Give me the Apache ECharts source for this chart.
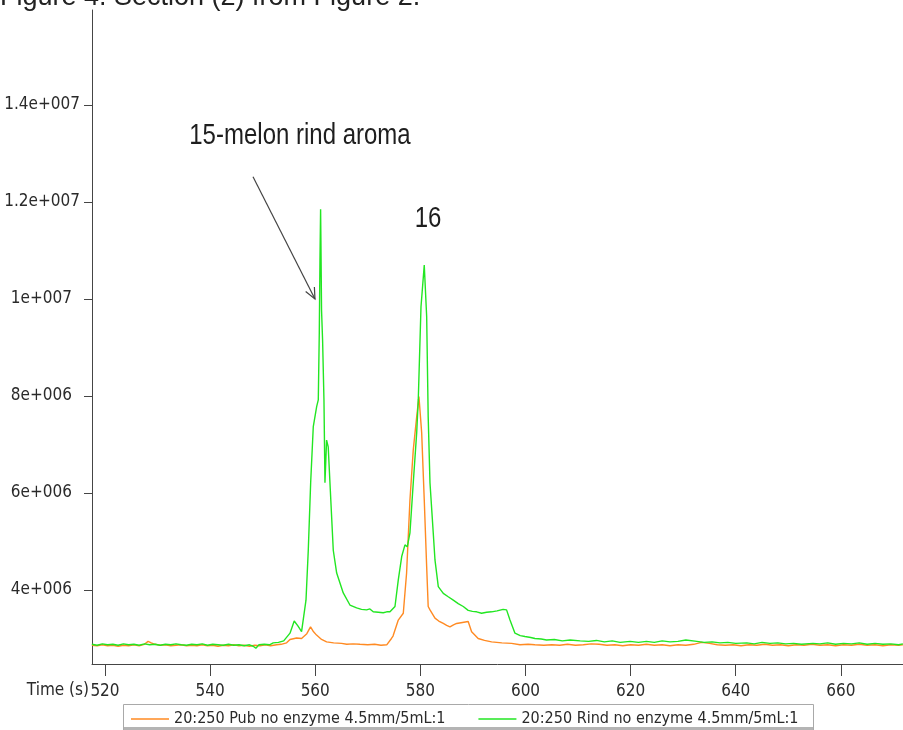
<!DOCTYPE html>
<html>
<head>
<meta charset="utf-8">
<script src="https://cdn.jsdelivr.net/npm/echarts@6/dist/echarts.min.js"></script>
<style>
  html, body { margin: 0; padding: 0; background: #ffffff; }
  #chart { width: 903px; height: 730px; }
</style>
</head>
<body>
<div id="chart"></div>
<script>
// Total ion chromatogram, retention window 517-672 s (intensity in millions of counts)
const seriesNames = [
  '20:250 Pub no enzyme 4.5mm/5mL:1',
  '20:250 Rind no enzyme 4.5mm/5mL:1'
];

// [time (s), intensity (x1e6)]
const pulpTrace = [
  [517.5,2.86],[518.5,2.85],[519.5,2.87],[520.5,2.85],[521.5,2.86],[522.5,2.84],[523.5,2.86],[524.5,2.85],
  [525.5,2.87],[526.5,2.85],[527.5,2.88],[528.2,2.94],[528.8,2.91],[529.5,2.88],[530.5,2.86],[531.5,2.87],
  [532.5,2.85],[533.5,2.86],[534.5,2.87],[535.5,2.85],[536.5,2.86],[537.5,2.85],[538.5,2.87],[539.5,2.85],
  [540.5,2.86],[541.5,2.84],[542.5,2.86],[543.5,2.85],[544.5,2.87],[545.5,2.85],[546.5,2.86],[547.5,2.84],
  [548.5,2.86],[549.5,2.85],[550.5,2.87],[551.5,2.85],[552.65,2.87],[553.5,2.88],[554.55,2.91],[555.2,2.98],
  [556.45,3.01],[557.4,3.00],[557.7,2.97],[558.4,3.10],[559.1,3.24],[559.6,3.15],[560.25,3.07],[561.2,2.98],
  [562.16,2.93],[563.5,2.91],[565,2.90],[566,2.88],[567.2,2.89],[568.5,2.88],[570,2.87],[571.3,2.88],
  [572.5,2.86],[573.6,2.87],[574.5,3.00],[574.8,3.05],[575.8,3.38],[576.75,3.52],[577.38,4.35],[578.02,5.86],
  [578.65,6.89],[579.3,7.57],[579.73,7.99],[580.25,7.24],[580.74,5.86],[581.2,4.48],[581.49,3.66],[581.83,3.59],
  [582.78,3.42],[583.5,3.36],[584.36,3.31],[585.0,3.27],[585.63,3.24],[586.3,3.28],[586.9,3.31],[588.0,3.33],
  [589.1,3.35],[589.75,3.14],[591.0,3.00],[592.2,2.96],[593.55,2.93],[595.5,2.91],[597.35,2.90],[598.95,2.87],
  [600.5,2.88],[601.8,2.87],[603.5,2.86],[605,2.87],[606.5,2.86],[608,2.88],[609.5,2.86],[611,2.87],
  [612.5,2.89],[614,2.88],[615.5,2.86],[617,2.87],[618.5,2.85],[620,2.87],[621.5,2.86],[623,2.88],
  [624.5,2.86],[626,2.87],[627.5,2.85],[629,2.87],[630.5,2.86],[632,2.88],[633.5,2.92],[635,2.90],
  [636.5,2.87],[638,2.86],[639.5,2.87],[641,2.85],[642.5,2.87],[644,2.86],[645.5,2.88],[647,2.86],
  [648.5,2.87],[650,2.85],[651.5,2.87],[653,2.86],[654.5,2.88],[656,2.86],[657.5,2.87],[659,2.85],
  [660.5,2.87],[662,2.86],[663.5,2.88],[665,2.86],[666.5,2.87],[668,2.85],[669.5,2.87],[671,2.86],[671.8,2.87]
];

const rindTrace = [
  [517.5,2.88],[518.5,2.86],[519.5,2.89],[520.5,2.87],[521.5,2.88],[522.5,2.86],[523.5,2.89],[524.5,2.87],
  [525.5,2.88],[526.5,2.86],[527.5,2.89],[528.5,2.87],[529.5,2.88],[530.5,2.86],[531.5,2.88],[532.5,2.87],
  [533.5,2.89],[534.5,2.87],[535.5,2.86],[536.5,2.88],[537.5,2.87],[538.5,2.89],[539.5,2.86],[540.5,2.88],
  [541.5,2.87],[542.5,2.86],[543.5,2.88],[544.5,2.86],[545.5,2.87],[546.5,2.85],[547.5,2.87],[548.2,2.84],
  [548.7,2.80],[549.3,2.87],[550.3,2.88],[551.3,2.87],[552.0,2.91],[553.0,2.92],[554.0,2.95],[555.2,3.11],
  [556.0,3.36],[556.7,3.26],[557.4,3.14],[558.24,3.79],[558.68,4.83],[559.13,6.21],[559.63,7.37],[560.27,7.78],
  [560.58,7.92],[560.77,9.30],[560.9,10.8],[561.02,11.85],[561.08,11.2],[561.2,9.77],[561.4,9.15],[561.66,7.92],
  [561.85,6.21],[562.16,7.09],[562.47,6.95],[562.8,6.21],[563.43,4.82],[564.08,4.35],[565.33,3.94],[566.6,3.69],
  [567.87,3.63],[568.8,3.60],[569.77,3.59],[570.4,3.61],[571.03,3.55],[572.0,3.54],[572.93,3.53],[573.6,3.55],
  [574.22,3.55],[575.17,3.66],[575.8,4.21],[576.45,4.69],[577.07,4.93],[577.51,4.89],[578.02,5.18],[578.65,6.21],
  [579.3,7.24],[579.6,7.92],[580.12,9.84],[580.74,10.7],[581.2,9.64],[581.49,7.57],[581.83,6.21],[582.45,5.18],
  [582.78,4.62],[583.41,4.07],[584.36,3.93],[585.3,3.86],[586.26,3.79],[587.2,3.72],[588.16,3.66],[589.1,3.58],
  [589.9,3.56],[590.7,3.55],[591.65,3.52],[592.6,3.54],[593.55,3.55],[594.6,3.57],[595.75,3.60],[596.4,3.59],
  [597.05,3.38],[598.0,3.11],[599.0,3.06],[599.9,3.04],[601.0,3.02],[601.8,3.00],[603.0,2.99],[604.0,2.97],
  [605.5,2.98],[607,2.95],[608.5,2.97],[610.4,2.95],[612,2.94],[613.5,2.96],[615,2.93],[616.5,2.95],
  [618,2.92],[619.9,2.94],[621.5,2.92],[623,2.94],[624.5,2.92],[626,2.95],[627.5,2.93],[629,2.94],
  [630.5,2.97],[632.6,2.94],[634,2.92],[635.5,2.93],[637,2.91],[638.5,2.92],[640,2.90],[642.1,2.91],
  [643.5,2.89],[645,2.92],[646.5,2.90],[648,2.91],[649.5,2.89],[651,2.90],[652.5,2.88],[654.7,2.90],
  [656,2.89],[657.5,2.91],[659,2.88],[660.5,2.90],[662,2.89],[663.5,2.91],[665,2.88],[666.5,2.90],
  [668,2.88],[669.5,2.89],[671,2.87],[671.8,2.89]
];

// Axis ticks
const xTicks = [520, 540, 560, 580, 600, 620, 640, 660];
const yTicks = [4, 6, 8, 10, 12, 14];
const yTickLabels = ['4e+006', '6e+006', '8e+006', '1e+007', '1.2e+007', '1.4e+007'];

// Peak annotations: [time, intensity, text]
const peakNotes = [
  [557.1, 13.36, '15-melon rind aroma'],
  [581.45, 11.65, '16']
];
// Arrow from the label down to peak 15: [from, to]
const peakArrow = [[548.16, 12.52], [559.95, 10.0]];

const colors = ['#ff8a22', '#22e622'];
const axisColor = '#454545';
const textColor = '#2a2a2a';
const labelFont = "'Liberation Sans Narrow', 'DejaVu Sans Condensed', sans-serif";

const chart = echarts.init(document.getElementById('chart'), null, { renderer: 'canvas' });

const option = {
  animation: false,
  backgroundColor: '#ffffff',
  color: colors,
  grid: { left: 92, right: 0, top: 10, bottom: 66, containLabel: false },
  legend: {
    left: 131,
    top: 711,
    padding: 0,
    icon: 'rect',
    itemWidth: 38,
    itemHeight: 1.5,
    itemGap: 33,
    textStyle: { fontFamily: labelFont, fontSize: 16, color: textColor, padding: [0, 0, 0, 0] },
    data: seriesNames
  },
  xAxis: {
    type: 'value',
    min: 517.53,
    max: 671.82,
    splitLine: { show: false },
    axisLine: { onZero: false, lineStyle: { color: axisColor, width: 1 } },
    axisTick: { show: true, length: 12, customValues: xTicks, lineStyle: { color: axisColor } },
    axisLabel: {
      customValues: xTicks,
      margin: 19,
      fontFamily: labelFont,
      fontSize: 17,
      color: textColor
    }
  },
  yAxis: {
    type: 'value',
    min: 2.474,
    max: 15.96,
    splitLine: { show: false },
    axisLine: { show: true, lineStyle: { color: axisColor, width: 1 } },
    axisTick: { show: true, length: 8, customValues: yTicks, lineStyle: { color: axisColor } },
    axisLabel: {
      customValues: yTicks,
      margin: 12,
      fontFamily: labelFont,
      fontSize: 17,
      color: textColor,
      formatter: function (v) {
        const i = yTicks.indexOf(v);
        const txt = i >= 0 ? yTickLabels[i] : '';
        return txt.length < 8 ? '{s|' + txt + '}' : txt;
      },
      rich: { s: { fontFamily: labelFont, fontSize: 17, color: textColor, padding: [0, 8, 0, 0] } }
    }
  },
  series: [
    {
      name: seriesNames[0],
      type: 'line',
      data: pulpTrace,
      symbol: 'none',
      lineStyle: { width: 1.4, color: colors[0] },
      z: 2
    },
    {
      name: seriesNames[1],
      type: 'line',
      data: rindTrace,
      symbol: 'none',
      lineStyle: { width: 1.4, color: colors[1] },
      z: 3
    }
  ]
};

chart.setOption(option);

// Overlay: figure caption, axis title, legend frame and peak annotations
const toPx = (p) => chart.convertToPixel({ gridIndex: 0 }, p);
const a0 = toPx(peakArrow[0]);
const a1 = toPx(peakArrow[1]);
const ang = Math.atan2(a1[1] - a0[1], a1[0] - a0[0]);
const headLen = 12, headSpread = 0.42;
const w1 = [a1[0] - headLen * Math.cos(ang - headSpread), a1[1] - headLen * Math.sin(ang - headSpread)];
const w2 = [a1[0] - headLen * Math.cos(ang + headSpread), a1[1] - headLen * Math.sin(ang + headSpread)];

const graphics = [
  {
    type: 'text', x: 0, y: 11, z: 10,
    style: {
      text: 'Figure 4. Section (2) from Figure 2.',
      font: "27px 'Liberation Sans', Arial, sans-serif",
      fill: '#222', textAlign: 'left', textVerticalAlign: 'bottom'
    }
  },
  {
    type: 'text', x: 89, y: 691, z: 10,
    style: {
      text: 'Time (s)', font: "17px " + labelFont,
      fill: textColor, textAlign: 'right', textVerticalAlign: 'middle'
    }
  },
  {
    type: 'rect', z: -1, silent: true,
    shape: { x: 123.5, y: 704.5, width: 690, height: 30 },
    style: { fill: '#ffffff', stroke: '#a9a9a9', lineWidth: 1 }
  },
  {
    type: 'rect', z: -1, silent: true,
    shape: { x: 124, y: 727, width: 689, height: 3 },
    style: { fill: '#b4b4b4' }
  },
  {
    type: 'line', z: 10, silent: true,
    shape: { x1: a0[0], y1: a0[1], x2: a1[0], y2: a1[1] },
    style: { stroke: '#444', lineWidth: 1.2 }
  },
  {
    type: 'polyline', z: 10, silent: true,
    shape: { points: [w1, a1, w2] },
    style: { stroke: '#444', lineWidth: 1.2, fill: null }
  }
];

peakNotes.forEach(function (n) {
  const p = toPx([n[0], n[1]]);
  graphics.push({
    type: 'text', x: p[0], y: p[1], z: 10, scaleY: 1.2,
    style: {
      text: n[2], font: "24px 'Liberation Sans', Arial, sans-serif",
      fill: '#1e1e1e', textAlign: 'center', textVerticalAlign: 'middle'
    }
  });
});

chart.setOption({ graphic: graphics });
</script>
</body>
</html>
